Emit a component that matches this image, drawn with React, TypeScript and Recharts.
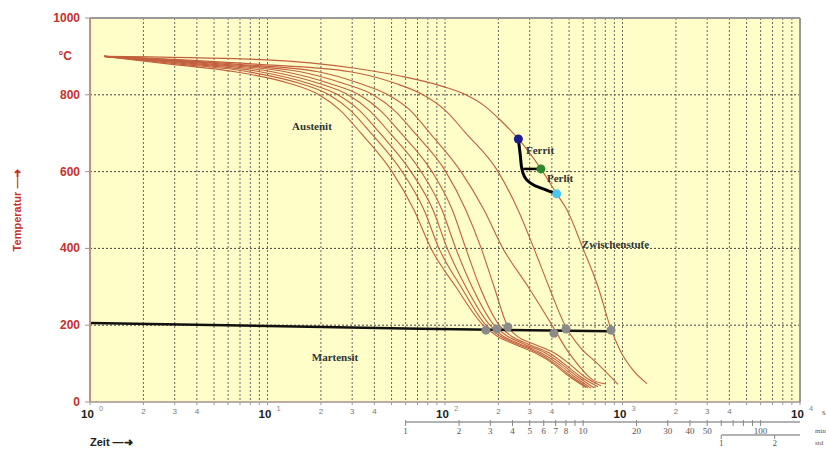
import React from "react";
import {
  ComposedChart,
  Line,
  XAxis,
  YAxis,
  CartesianGrid,
  ReferenceLine,
  ReferenceDot,
} from "recharts";

const W = 826;
const H = 449;
const MARGIN = { top: 18, right: 26, bottom: 0, left: 0 };
const PLOT_RIGHT = W - MARGIN.right;

const RED = "#c8302c";
const CURVE = "#c2603e";
const BG = "#fffdc8";
const SANS = "'Liberation Sans', Arial, sans-serif";
const SERIF = "'Liberation Serif', 'Times New Roman', serif";

// cooling curves: [time s, temperature °C]
const curve1 = [[1.2, 900], [2.82, 880], [6.56, 860], [13.2, 830], [19.5, 800], [25.6, 760], [33.6, 700], [50.3, 600], [66.9, 500], [83.4, 400], [115, 300], [164, 200], [196, 172], [248, 150], [321, 128], [406, 100], [506, 65], [623, 38]];
const curve2 = [[1.2, 900], [3.21, 880], [7.77, 860], [15.1, 830], [22.2, 800], [29.2, 760], [38.3, 700], [57.3, 600], [76.2, 500], [92.5, 400], [123, 300], [170, 200], [204, 172], [258, 150], [334, 128], [417, 100], [520, 65], [639, 37]];
const curve3 = [[1.2, 900], [3.66, 880], [9.07, 860], [16.9, 830], [24.9, 800], [32.8, 760], [43.0, 700], [64.3, 600], [85.6, 500], [103, 400], [131, 300], [179, 200], [212, 172], [268, 150], [347, 128], [433, 100], [540, 65], [665, 36]];
const curve4 = [[1.2, 900], [4.17, 880], [10.6, 860], [19.3, 830], [28.4, 800], [37.3, 760], [49.0, 700], [73.3, 600], [96.2, 500], [115, 400], [142, 300], [189, 200], [224, 172], [282, 150], [366, 128], [450, 100], [562, 65], [691, 37]];
const curve5 = [[1.2, 900], [4.75, 880], [12.6, 860], [22.2, 830], [32.8, 800], [43.0, 760], [56.5, 700], [84.5, 600], [110, 500], [131, 400], [157, 300], [202, 200], [236, 172], [297, 150], [385, 128], [468, 100], [584, 65], [728, 40]];
const curve6 = [[1.2, 900], [5.54, 880], [15.3, 860], [26.6, 830], [39.3, 800], [51.6, 760], [67.7, 700], [101, 600], [131, 500], [160, 400], [189, 300], [224, 200], [254, 172], [321, 150], [411, 128], [500, 100], [615, 65], [757, 42]];
const curve7 = [[1.2, 900], [6.56, 880], [19.3, 860], [32.8, 830], [47.7, 800], [63.5, 760], [82.3, 700], [123, 600], [166, 500], [212, 400], [294, 300], [401, 200], [487, 135], [576, 91], [682, 57], [807, 47]];
const curve8 = [[1.2, 900], [8.5, 880], [29.2, 860], [52.3, 830], [75.2, 800], [100, 760], [131, 700], [199, 600], [258, 500], [317, 400], [385, 300], [474, 200], [576, 143], [718, 101], [943, 46]];
const curve9 = [[1.2, 900], [9.94, 891], [31.1, 869], [55.8, 849], [100, 820], [131, 800], [168, 770], [204, 735], [242, 700], [259, 685], [347, 607], [426, 542], [487, 500], [599, 400], [728, 300], [861, 190], [968, 135], [1146, 83], [1374, 48]];
const curves = [curve1, curve2, curve3, curve4, curve5, curve6, curve7, curve8, curve9];

const msLine = [[1, 206], [10, 198], [72, 191], [300, 187], [860, 184]];
const msDots = [[170, 187], [196, 190], [226, 195], [411, 179], [481, 190], [861, 187]];

const ferritLine = [[259, 685], [265, 646], [270, 611], [282, 585], [308, 568], [358, 555], [426, 542]];
const perlitBranch = [[276, 607], [347, 607]];
const ferritStart = [[259, 685]];
const perlitStart = [[347, 607]];
const perlitEnd = [[426, 542]];

const phaseLabels = [
  { name: "Austenit", t: 17.8, T: 719 },
  { name: "Ferrit", t: 343, T: 655 },
  { name: "Perlit", t: 445, T: 584 },
  { name: "Zwischenstufe", t: 913, T: 410 },
  { name: "Martensit", t: 24, T: 117 },
];

const yTicks = [0, 200, 400, 600, 800, 900, 1000];
const yGrid = [200, 400, 600, 800];
const xTicks = [
  1, 2, 3, 4, 5, 6, 7, 8, 9,
  10, 20, 30, 40, 50, 60, 70, 80, 90,
  100, 200, 300, 400, 500, 600, 700, 800, 900,
  1000, 2000, 3000, 4000, 5000, 6000, 7000, 8000, 9000,
  10000,
];
const xGrid = xTicks.filter((v) => v > 1 && v < 10000);
// second scale in minutes, third in hours (same span as 1..10000 s)
const minTicks = [1, 2, 3, 4, 5, 6, 7, 8, 9, 10, 20, 30, 40, 50, 60, 70, 80, 90, 100];
const minLabels = [1, 2, 3, 4, 5, 6, 7, 8, 10, 20, 30, 40, 50, 100];
const minDomain = [1 / 60, 10000 / 60];
const stdTicks = [1, 2];
const stdDomain = [1 / 3600, 10000 / 3600];

const pts = (a: number[][]) => a.map(([t, T]) => ({ t, T }));

const YTick = (props: any) => {
  const { x, y, payload } = props;
  const v = payload.value;
  if (v === 900) {
    return (
      <text x={x - 18} y={y + 4} textAnchor="end" fill={RED} fontSize={12} fontWeight="bold" fontFamily={SANS}>
        °C
      </text>
    );
  }
  return (
    <g>
      <line x1={x - 5} x2={x} y1={y} y2={y} stroke="#b09090" />
      <text x={x - 10} y={y + 4} textAnchor="end" fill={RED} fontSize={12} fontWeight="bold" fontFamily={SANS}>
        {v}
      </text>
    </g>
  );
};

const XTick = (props: any) => {
  const { x, y, payload } = props;
  const v = payload.value;
  const e = Math.floor(Math.log10(v) + 1e-9);
  const m = Math.round(v / Math.pow(10, e));
  return (
    <g>
      <line x1={x} x2={x} y1={y} y2={y + 3} stroke="#999" />
      {m === 1 && (
        <>
          <text x={x - 2.5} y={y + 16} textAnchor="middle" fill="#222" fontSize={11.5} fontWeight="bold" fontFamily={SANS}>
            10
          </text>
          <text x={x + 11} y={y + 9} textAnchor="middle" fill="#888" fontSize={7.5} fontFamily={SANS}>
            {e}
          </text>
        </>
      )}
      {m >= 2 && m <= 4 && (
        <text x={x} y={y + 12} textAnchor="middle" fill="#777" fontSize={8} fontFamily={SANS}>
          {m}
        </text>
      )}
    </g>
  );
};

const MinTick = (props: any) => {
  const { x, y, payload } = props;
  const v = payload.value;
  return (
    <g>
      {v === 1 && <line x1={x} x2={PLOT_RIGHT} y1={y} y2={y} stroke="#999" strokeWidth={1.5} />}
      <line x1={x} x2={x} y1={y - 2} y2={y + 4} stroke="#888" />
      {minLabels.includes(v) && (
        <text x={x} y={y + 12} textAnchor="middle" fill="#555" fontSize={9} fontFamily={SERIF}>
          {v}
        </text>
      )}
    </g>
  );
};

const StdTick = (props: any) => {
  const { x, y, payload } = props;
  const v = payload.value;
  return (
    <g>
      {v === 1 && (
        <>
          <line x1={x} x2={PLOT_RIGHT} y1={y} y2={y} stroke="#999" strokeWidth={1.5} />
          <text x={PLOT_RIGHT + 15} y={y + 10} fill="#555" fontSize={7} fontFamily={SERIF}>
            std
          </text>
        </>
      )}
      <line x1={x} x2={x} y1={y} y2={y + 4} stroke="#888" />
      <text x={x} y={y + 11} textAnchor="middle" fill="#555" fontSize={9} fontFamily={SERIF}>
        {v}
      </text>
    </g>
  );
};

export default function App() {
  return (
    <div style={{ position: "absolute", left: 0, top: 0, background: "#fff" }}>
      <ComposedChart width={W} height={H} margin={MARGIN} style={{ fontFamily: SANS }}>
        <CartesianGrid
          vertical={false}
          horizontalValues={yGrid}
          stroke="#444"
          strokeDasharray="2 2"
          fill={BG}
          fillOpacity={1}
        />
        <CartesianGrid horizontal={false} verticalValues={xGrid} stroke="#666" strokeDasharray="2 2" />
        <XAxis
          dataKey="t"
          type="number"
          scale="log"
          domain={[1, 10000]}
          allowDataOverflow
          ticks={xTicks}
          interval={0}
          tick={<XTick />}
          tickLine={false}
          tickSize={0}
          tickMargin={0}
          height={20}
          axisLine={{ stroke: "#a89090", strokeWidth: 1.5 }}
          label={{ value: "s", position: "right", offset: 22, fill: "#555", fontSize: 9, fontFamily: SERIF }}
        />
        <XAxis
          xAxisId="min"
          dataKey="t"
          type="number"
          scale="log"
          domain={minDomain}
          allowDataOverflow
          ticks={minTicks}
          interval={0}
          tick={<MinTick />}
          tickLine={false}
          tickSize={0}
          tickMargin={0}
          axisLine={false}
          height={13}
          label={{ value: "min", position: "right", offset: 15, dy: 2, fill: "#555", fontSize: 7, fontFamily: SERIF }}
        />
        <XAxis
          xAxisId="std"
          dataKey="t"
          type="number"
          scale="log"
          domain={stdDomain}
          allowDataOverflow
          ticks={stdTicks}
          interval={0}
          tick={<StdTick />}
          tickLine={false}
          tickSize={0}
          tickMargin={0}
          axisLine={false}
          height={14}
          label={{ value: "Zeit  —➜", position: "insideLeft", offset: 0, fill: "#222", fontSize: 11, fontWeight: "bold", fontFamily: SANS }}
        />
        <YAxis
          type="number"
          domain={[0, 1000]}
          allowDataOverflow
          ticks={yTicks}
          interval={0}
          tick={<YTick />}
          tickLine={false}
          tickSize={0}
          tickMargin={0}
          width={90}
          axisLine={{ stroke: "#c09080", strokeWidth: 2 }}
          label={{
            value: "Temperatur  —➜",
            angle: -90,
            position: "insideLeft",
            offset: 17,
            fill: RED,
            fontSize: 11,
            fontWeight: "bold",
            fontFamily: SANS,
            style: { textAnchor: "middle" },
          }}
        />
        <ReferenceLine y={1000} stroke="#999" strokeWidth={2} />
        <ReferenceLine x={10000} stroke="#999" strokeWidth={2} />

        {/* invisible spans so the minute / hour axes get a scale */}
        <Line
          xAxisId="min"
          data={minDomain.map((t) => ({ t, T: 0 }))}
          dataKey="T"
          stroke="none"
          dot={false}
          activeDot={false}
          isAnimationActive={false}
        />
        <Line
          xAxisId="std"
          data={stdDomain.map((t) => ({ t, T: 0 }))}
          dataKey="T"
          stroke="none"
          dot={false}
          activeDot={false}
          isAnimationActive={false}
        />

        {curves.map((c, i) => (
          <Line
            key={i}
            data={pts(c)}
            dataKey="T"
            type="monotone"
            stroke={CURVE}
            strokeWidth={1.1}
            dot={false}
            isAnimationActive={false}
          />
        ))}

        <Line data={pts(msLine)} dataKey="T" type="linear" stroke="#111" strokeWidth={2.5} dot={false} isAnimationActive={false} />
        <Line
          data={pts(msDots)}
          dataKey="T"
          stroke="none"
          strokeWidth={0}
          dot={{ r: 4.5, fill: "#8a8a8a", stroke: "none" }}
          isAnimationActive={false}
        />
        <Line data={pts(ferritLine)} dataKey="T" type="monotone" stroke="#000" strokeWidth={3} dot={false} isAnimationActive={false} />
        <Line data={pts(perlitBranch)} dataKey="T" type="linear" stroke="#000" strokeWidth={2.5} dot={false} isAnimationActive={false} />
        <Line data={pts(ferritStart)} dataKey="T" stroke="none" dot={{ r: 4.5, fill: "#1c1c8e", stroke: "none" }} isAnimationActive={false} />
        <Line data={pts(perlitStart)} dataKey="T" stroke="none" dot={{ r: 4.5, fill: "#2a8a2a", stroke: "none" }} isAnimationActive={false} />
        <Line data={pts(perlitEnd)} dataKey="T" stroke="none" dot={{ r: 4.5, fill: "#4cc8f0", stroke: "none" }} isAnimationActive={false} />

        {phaseLabels.map((p) => (
          <ReferenceDot
            key={p.name}
            x={p.t}
            y={p.T}
            r={0}
            fill="none"
            stroke="none"
            label={{ value: p.name, position: "center", fill: "#333", fontSize: 11, fontWeight: "bold", fontFamily: SERIF }}
          />
        ))}
      </ComposedChart>
    </div>
  );
}
